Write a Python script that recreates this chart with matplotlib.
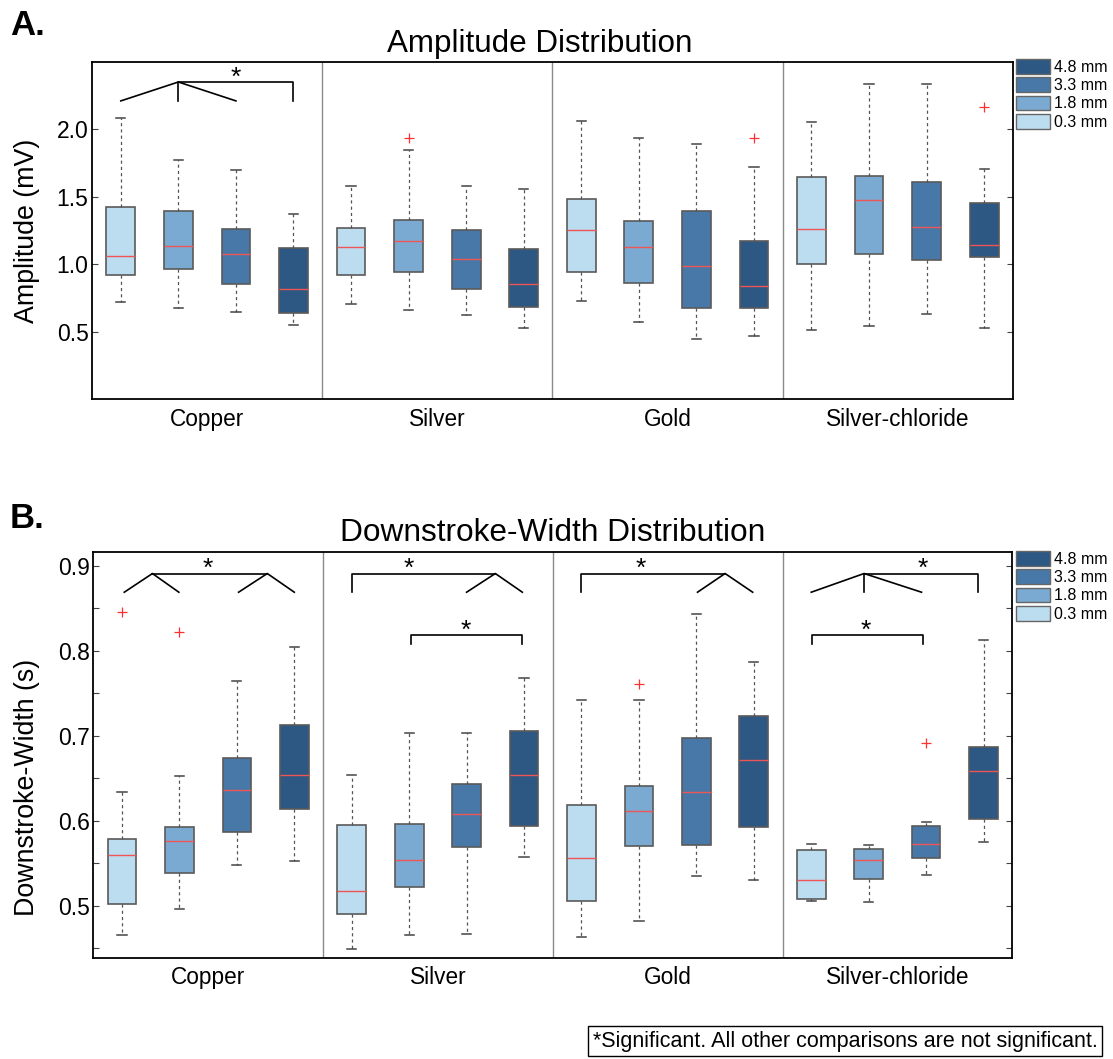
import numpy as np
import matplotlib.pyplot as plt
from matplotlib.patches import Patch

plt.rcParams['font.family'] = ['Liberation Sans', 'DejaVu Sans']

materials = ['Copper', 'Silver', 'Gold', 'Silver-chloride']
depths = ['0.3 mm', '1.8 mm', '3.3 mm', '4.8 mm']
box_colors = ['#bcdcf0', '#7aaad1', '#4878a8', '#2c5883']

# Amplitude (mV): one row per material, one value per depth
amp_low = [[0.72, 0.68, 0.65, 0.547], [0.707, 0.663, 0.628, 0.532],
           [0.729, 0.574, 0.444, 0.466], [0.515, 0.542, 0.631, 0.525]]
amp_q1 = [[0.919, 0.963, 0.857, 0.643], [0.921, 0.946, 0.815, 0.682],
          [0.946, 0.865, 0.68, 0.677], [1.0, 1.074, 1.035, 1.052]]
amp_med = [[1.064, 1.135, 1.079, 0.815], [1.126, 1.17, 1.037, 0.855],
           [1.256, 1.131, 0.988, 0.838], [1.264, 1.478, 1.278, 1.145]]
amp_q3 = [[1.426, 1.394, 1.264, 1.118], [1.271, 1.325, 1.253, 1.116],
          [1.482, 1.318, 1.397, 1.175], [1.645, 1.655, 1.613, 1.453]]
amp_high = [[2.085, 1.775, 1.696, 1.371], [1.578, 1.847, 1.583, 1.554],
            [2.061, 1.933, 1.888, 1.724], [2.051, 2.337, 2.337, 1.704]]
amp_out = [[[], [], [], []], [[], [1.933], [], []],
           [[], [], [], [1.935]], [[], [], [], [2.162]]]

# Downstroke-width (s)
dsw_low = [[0.466, 0.4965, 0.548, 0.553], [0.449, 0.4655, 0.4667, 0.557],
           [0.4635, 0.4827, 0.535, 0.5306], [0.5059, 0.5043, 0.5365, 0.5753]]
dsw_q1 = [[0.5027, 0.5384, 0.5867, 0.6137], [0.4906, 0.522, 0.569, 0.5941],
          [0.5055, 0.5706, 0.5714, 0.5922], [0.5082, 0.5314, 0.5561, 0.602]]
dsw_med = [[0.560, 0.5765, 0.6357, 0.6537], [0.518, 0.5541, 0.6075, 0.6545],
           [0.5557, 0.6114, 0.6341, 0.6718], [0.5309, 0.5537, 0.5733, 0.6592]]
dsw_q3 = [[0.5792, 0.5925, 0.6741, 0.7122], [0.5945, 0.5961, 0.6439, 0.7059],
          [0.6192, 0.6412, 0.6969, 0.7239], [0.5655, 0.5663, 0.5937, 0.6871]]
dsw_high = [[0.6345, 0.6522, 0.7647, 0.8047], [0.6537, 0.7035, 0.7031, 0.7686],
            [0.742, 0.7427, 0.8435, 0.787], [0.5722, 0.5714, 0.5984, 0.8125]]
dsw_out = [[[0.846], [0.822], [], []], [[], [], [], []],
           [[], [0.761], [], []], [[], [], [0.692], []]]

# significance brackets (x in box-slot units, y in data units) and stars
amp_brackets = [[(0.5, 2.21), (1.5, 2.35), (2.5, 2.21)],
                [(1.5, 2.21), (1.5, 2.35), (3.5, 2.35), (3.5, 2.21)]]
amp_stars = [(2.5, 2.35)]
dsw_brackets = [[(0.54, 0.869), (1.03, 0.891), (1.49, 0.869)],
                [(1.03, 0.891), (3.03, 0.891)],
                [(2.53, 0.869), (3.03, 0.891), (3.5, 0.869)],
                [(4.5, 0.869), (4.5, 0.891), (7.0, 0.891)],
                [(6.5, 0.869), (7.0, 0.891), (7.47, 0.869)],
                [(5.54, 0.808), (5.54, 0.8185), (7.47, 0.8185), (7.47, 0.808)],
                [(8.5, 0.869), (8.5, 0.891), (11.0, 0.891)],
                [(10.52, 0.869), (11.0, 0.891), (11.48, 0.869)],
                [(12.5, 0.869), (13.42, 0.891), (14.42, 0.869)],
                [(13.42, 0.869), (13.42, 0.891), (15.41, 0.891), (15.41, 0.869)],
                [(12.51, 0.808), (12.51, 0.8185), (14.44, 0.8185), (14.44, 0.808)]]
dsw_stars = [(2.0, 0.891), (5.5, 0.891), (6.48, 0.8185), (9.53, 0.891),
             (14.44, 0.891), (13.45, 0.8185)]


def draw_panel(ax, low, q1, med, q3, high, out, brackets, stars):
    stats, pos, cols = [], [], []
    for g in range(len(materials)):
        for j in range(len(depths)):
            stats.append(dict(whislo=low[g][j], q1=q1[g][j], med=med[g][j],
                              q3=q3[g][j], whishi=high[g][j], fliers=out[g][j]))
            pos.append(g * 4 + j + 0.5)
            cols.append(box_colors[j])
    bp = ax.bxp(stats, positions=pos, widths=0.5, capwidths=0.16,
                patch_artist=True, showfliers=True,
                boxprops=dict(edgecolor='#5a5a5a', linewidth=1.2),
                whiskerprops=dict(color='#555555', linestyle=(0, (2.5, 2.5)), linewidth=0.9),
                capprops=dict(color='#444444', linewidth=1.1),
                medianprops=dict(color='#f05555', linewidth=1.0),
                flierprops=dict(marker='+', markeredgecolor='#ff3030',
                                markersize=7, markeredgewidth=0.9))
    for b, c in zip(bp['boxes'], cols):
        b.set_facecolor(c)
    for xs in (4, 8, 12):
        ax.axvline(xs, color='#8a8a8a', linewidth=1.0, zorder=0)
    for seg in brackets:
        ax.plot([p[0] for p in seg], [p[1] for p in seg], color='black', linewidth=1.2)
    for sx, sy in stars:
        ax.annotate('*', (sx, sy), xytext=(0, -2), textcoords='offset points',
                    ha='center', va='baseline', fontsize=19)
    ax.set_xlim(0, 16)
    ax.set_xticks([2, 6, 10, 14])
    ax.set_xticklabels(materials)
    ax.tick_params(axis='x', length=0, labelsize=16.3, pad=6)
    ax.tick_params(axis='y', which='both', direction='in', right=True,
                   length=4, labelsize=16.5, pad=2.5, width=0.8, color='#444444')
    for s in ax.spines.values():
        s.set_linewidth(1.3)


fig = plt.figure(figsize=(11.13, 10.59), dpi=100)

ax1 = fig.add_axes([0.0827, 0.6229, 0.8274, 0.3188])
draw_panel(ax1, amp_low, amp_q1, amp_med, amp_q3, amp_high, amp_out,
           amp_brackets, amp_stars)
ax1.set_ylim(0, 2.5)
ax1.set_yticks([0.5, 1.0, 1.5, 2.0])
ax1.set_yticklabels(['0.5', '1.0', '1.5', '2.0'])
ax1.set_ylabel('Amplitude (mV)', fontsize=19.3)
ax1.yaxis.set_label_coords(-0.057, 0.5)
ax1.set_title('Amplitude Distribution', fontsize=22.6, pad=7, x=0.4864)

ax2 = fig.add_axes([0.0838, 0.0957, 0.8257, 0.3828])
draw_panel(ax2, dsw_low, dsw_q1, dsw_med, dsw_q3, dsw_high, dsw_out,
           dsw_brackets, dsw_stars)
ax2.set_ylim(0.439, 0.916)
ax2.set_yticks([0.5, 0.6, 0.7, 0.8, 0.9])
ax2.set_yticklabels(['0.5', '0.6', '0.7', '0.8', '0.9'])
ax2.set_yticks(np.arange(0.45, 0.9, 0.1), minor=True)
ax2.set_ylabel('Downstroke-Width (s)', fontsize=19.3)
ax2.yaxis.set_label_coords(-0.058, 0.42)
ax2.set_title('Downstroke-Width Distribution', fontsize=22.8, pad=8)

handles = [Patch(facecolor=box_colors[j], edgecolor='#666666', linewidth=1.0)
           for j in range(len(depths))][::-1]
labels = depths[::-1]
leg_kw = dict(loc='upper left', frameon=False, fontsize=11.5, handlelength=2.1,
              handleheight=1.05, labelspacing=0.15, handletextpad=0.25,
              borderpad=0, borderaxespad=0)
fig.legend(handles, labels, bbox_to_anchor=(1016 / 1113, 1 - 59 / 1059), **leg_kw)
fig.legend(handles, labels, bbox_to_anchor=(1016 / 1113, 1 - 551 / 1059), **leg_kw)

fig.text(0.009, 1 - 35 / 1059, 'A.', fontsize=25, fontweight='bold', va='baseline')
fig.text(0.009, 1 - 528 / 1059, 'B.', fontsize=25, fontweight='bold', va='baseline')

fig.text(845 / 1113, 1 - 1041 / 1059,
         '*Significant. All other comparisons are not significant.',
         fontsize=15.5, ha='center', va='center',
         bbox=dict(boxstyle='square,pad=0.2', facecolor='white',
                   edgecolor='black', linewidth=1.0))

fig.savefig('out.png', dpi=100)
